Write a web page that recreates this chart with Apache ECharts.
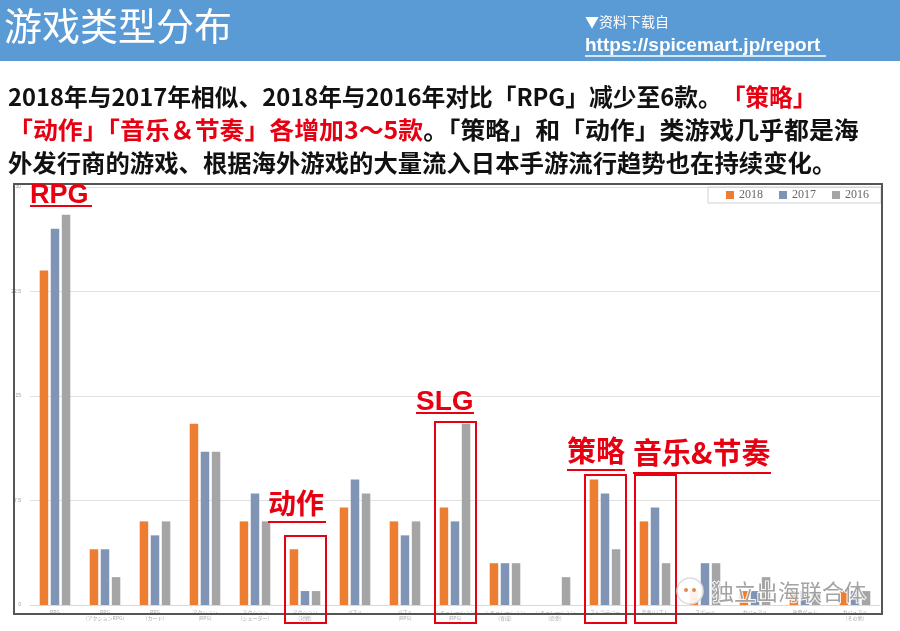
<!DOCTYPE html>
<html><head><meta charset="utf-8">
<script src="https://cdn.jsdelivr.net/npm/echarts@6/dist/echarts.min.js"></script>
<style>html,body{margin:0;padding:0;background:#fff}#c{width:900px;height:631px}</style>
</head><body><div id="c"></div>
<script>
const categories = [
  'RPG', 'RPG\n(アクションRPG)', 'RPG\n(カード)', 'アクション\n(RPG)', 'アクション\n(シューター)',
  'アクション\n(対戦)', 'パズル', 'パズル\n(RPG)', 'シミュレーション\n(RPG)', 'シミュレーション\n(育成)',
  'シミュレーション\n(恋愛)', 'ストラテジー', '音楽/リズム', 'スポーツ', 'カジュアル', '放置ゲーム', 'カジュアル\n(その他)'
];
const s2018 = [24, 4, 6, 13, 6, 4, 7, 6, 7, 3, 0, 9, 6, 1, 1, 1, 1];
const s2017 = [27, 4, 5, 11, 8, 1, 9, 5, 6, 3, 0, 8, 7, 3, 1, 1, 1];
const s2016 = [28, 2, 6, 11, 6, 1, 8, 6, 13, 3, 2, 4, 3, 3, 2, 1, 1];
const years = ['2018', '2017', '2016'];
const yTicks = [0, 7.5, 15, 22.5, 30];

const RED = '#e60012';
const CJK = '"Noto Sans CJK SC", "Noto Sans", sans-serif';
const ARIAL = '"Liberation Sans", Arial, sans-serif';

const chart = echarts.init(document.getElementById('c'));
chart.setOption({
  animation: false,
  grid: { left: 30, right: 20, top: 187, bottom: 26 },
  legend: {
    data: years, right: 19, top: 187, itemWidth: 8, itemHeight: 8, itemGap: 16, icon: 'rect',
    borderColor: '#d0d0d0', borderWidth: 1, padding: [2, 12, 2, 18],
    textStyle: { fontFamily: '"Liberation Serif", serif', fontSize: 12, color: '#666' }
  },
  xAxis: {
    type: 'category', data: categories,
    axisLine: { lineStyle: { color: '#d9d9d9' } }, axisTick: { show: false },
    axisLabel: { fontSize: 5, color: '#aaa', interval: 0, lineHeight: 6, margin: 4, fontFamily: CJK }
  },
  yAxis: {
    type: 'value', min: yTicks[0], max: yTicks[yTicks.length - 1], interval: yTicks[1] - yTicks[0],
    axisLine: { show: false }, axisTick: { show: false },
    splitLine: { lineStyle: { color: '#e0e0e0' } },
    axisLabel: { fontSize: 5, color: '#999', margin: 9 }
  },
  series: [
    { name: years[0], type: 'bar', data: s2018, barWidth: 8.5, barGap: '30%', itemStyle: { color: '#ED7D31' } },
    { name: years[1], type: 'bar', data: s2017, barWidth: 8.5, barGap: '30%', itemStyle: { color: '#8095B5' } },
    { name: years[2], type: 'bar', data: s2016, barWidth: 8.5, barGap: '30%', itemStyle: { color: '#A5A5A5' } }
  ]
});

function boxFor(catIdx, top) {
  const cx = chart.convertToPixel({ xAxisIndex: 0 }, categories[catIdx]);
  return { type: 'rect', shape: { x: cx - 20, y: top, width: 41, height: 623 - top },
    style: { fill: 'none', stroke: RED, lineWidth: 2 }, z: 100 };
}
function redLabel(text, x, y, size, ulW, ulY, font) {
  return [
    { type: 'text', x: x, y: y, z: 100, style: { text: text, fill: RED, font: 'bold ' + size + 'px ' + font, textVerticalAlign: 'middle' } },
    { type: 'line', shape: { x1: x, y1: ulY, x2: x + ulW, y2: ulY }, style: { stroke: RED, lineWidth: 2 }, z: 100 }
  ];
}
const rich = { b: { fill: '#111', font: 'bold 24px ' + CJK }, r: { fill: RED, font: 'bold 24px ' + CJK } };
const g = [
  { type: 'rect', shape: { x: 0, y: 0, width: 900, height: 61 }, style: { fill: '#5B9BD5' }, z: 0 },
  { type: 'text', x: 4, y: 26, style: { text: '游戏类型分布', fill: '#fff', font: '38px ' + CJK, textVerticalAlign: 'middle' } },
  { type: 'text', x: 585, y: 22, style: { text: '▼资料下载自', fill: '#fff', font: '14px ' + CJK, textVerticalAlign: 'middle' } },
  { type: 'text', x: 585, y: 46, style: { text: 'https://spicemart.jp/report', fill: '#fff', font: 'bold 19px ' + ARIAL, textVerticalAlign: 'middle' } },
  { type: 'line', shape: { x1: 585, y1: 56, x2: 826, y2: 56 }, style: { stroke: '#fff', lineWidth: 1.5 } },
  { type: 'text', x: 8, y: 97, scaleX: 0.988, style: {
      text: '{b|2018年与2017年相似、2018年与2016年对比「RPG」减少至6款。}{r|「策略」}',
      textVerticalAlign: 'middle', rich: rich } },
  { type: 'text', x: 8, y: 130, scaleX: 1.037, style: {
      text: '{r|「动作」「音乐＆节奏」各增加3～5款}{b|。「策略」和「动作」类游戏几乎都是海}',
      textVerticalAlign: 'middle', rich: rich } },
  { type: 'text', x: 8, y: 163, scaleX: 1.015, style: {
      text: '外发行商的游戏、根据海外游戏的大量流入日本手游流行趋势也在持续变化。',
      fill: '#111', font: 'bold 24px ' + CJK, textVerticalAlign: 'middle' } },
  { type: 'rect', shape: { x: 14, y: 184, width: 868, height: 430 }, style: { fill: 'none', stroke: '#555', lineWidth: 2 }, z: 50 },
  boxFor(5, 536), boxFor(8, 422), boxFor(11, 475), boxFor(12, 475),
  ...redLabel('RPG', 30, 196, 27, 62, 206, ARIAL),
  ...redLabel('动作', 268, 503, 28, 58, 522, CJK),
  ...redLabel('SLG', 416, 402, 28, 58, 413, ARIAL),
  ...redLabel('策略', 567, 451, 29, 58, 470, CJK),
  ...redLabel('音乐&节奏', 633, 453, 29, 138, 473, CJK),
  { type: 'circle', shape: { cx: 690, cy: 591, r: 13 }, style: { fill: 'rgba(255,255,255,0.9)', stroke: '#ddd', lineWidth: 1.5 }, z: 120 },
  { type: 'circle', shape: { cx: 686, cy: 590, r: 2 }, style: { fill: '#e08a50' }, z: 121 },
  { type: 'circle', shape: { cx: 694, cy: 590, r: 2 }, style: { fill: '#e08a50' }, z: 121 },
  { type: 'text', x: 712, y: 592, z: 120, style: { text: '独立出海联合体', fill: 'rgba(140,140,140,0.8)', stroke: 'rgba(255,255,255,0.9)', lineWidth: 2, font: '22px ' + CJK, textVerticalAlign: 'middle' } }
];
chart.setOption({ graphic: g });
</script></body></html>
